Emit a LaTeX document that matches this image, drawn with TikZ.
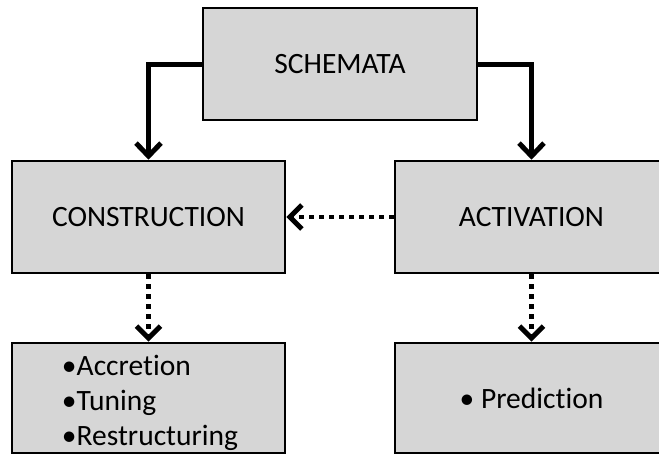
\documentclass[tikz,border=0pt]{standalone}
\usepackage{fontspec}
\setmainfont[Ligatures=NoCommon]{Carlito}
\usetikzlibrary{arrows.meta}

\tikzset{
  box/.style={draw=black, line width=2.6pt, fill=black!16, rectangle,
    minimum width=273pt, minimum height=112pt, inner sep=0pt,
    font=\fontsize{29.5}{35}\selectfont},
  label/.style={inner sep=0pt, font=\fontsize{29.5}{35}\selectfont},
  mainlink/.style={line width=5pt, line join=miter,
    -{Straight Barb[length=13pt,width=25pt,line width=5pt]}},
  dotlink/.style={line width=4.5pt, dash pattern=on 4.5pt off 5.5pt,
    -{Straight Barb[length=12pt,width=24pt,line width=5pt]}}
}

\begin{document}
\begin{tikzpicture}[x=1pt, y=-1pt]
  \useasboundingbox (0,0) rectangle (659,455);

  % top concept and its two branches
  \node[box, minimum width=274pt] (schem) at (340,64) {SCHEMATA};
  \node[box] (cons) at (148.5,217) {CONSTRUCTION};
  \node[box] (act) at (531.5,217) {ACTIVATION};

  % processes under each branch
  \node[box, minimum height=110pt] (consl) at (148.5,398) {};
  \node[label, align=left] (conslist) at (150,403)
    {•Accretion\\•Tuning\\•Restructuring};
  \node[box, minimum height=110pt] (actl) at (531.5,398) {• Prediction};

  % connectors
  \draw[mainlink] (schem.west) -| (cons.north);
  \draw[mainlink] (schem.east) -| (act.north);
  \draw[dotlink] (act.west) -- (cons.east);
  \draw[dotlink] (cons.south) -- (consl.north);
  \draw[dotlink] (act.south) -- (actl.north);
\end{tikzpicture}
\end{document}
